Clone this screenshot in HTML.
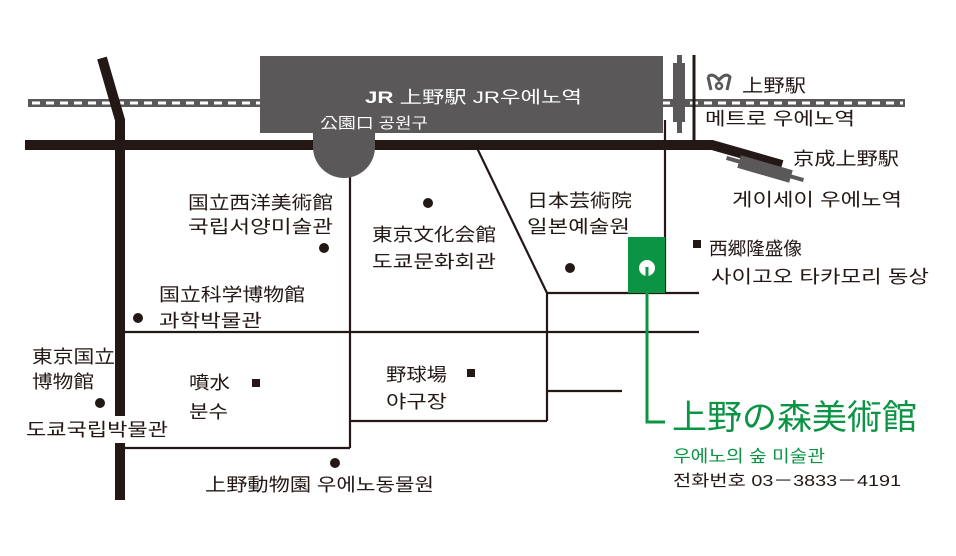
<!DOCTYPE html>
<html><head><meta charset="utf-8"><style>
html,body{margin:0;padding:0;background:#fff;}
svg{display:block;}
text{font-family:"Liberation Sans","Noto Sans CJK KR","Noto Sans CJK JP",sans-serif;}
</style></head><body>
<svg width="956" height="556" viewBox="0 0 956 556" xmlns="http://www.w3.org/2000/svg">
<rect width="956" height="556" fill="#fff"/>
<!-- rail -->
<rect x="28" y="99" width="877" height="8" fill="#5a5858"/>
<line x1="32" y1="103" x2="903" y2="103" stroke="#fff" stroke-width="3" stroke-dasharray="8,6"/>
<!-- thin roads -->
<g stroke="#231815" stroke-width="2.2" fill="none">
<line x1="350" y1="170" x2="350" y2="448"/>
<line x1="120" y1="332" x2="699" y2="332"/>
<line x1="120" y1="448" x2="350" y2="448"/>
<line x1="350" y1="421" x2="547" y2="421"/>
<line x1="547" y1="293" x2="547" y2="421"/>
<line x1="477" y1="148" x2="547" y2="293"/>
<line x1="547" y1="293" x2="699" y2="293"/>
<line x1="547" y1="391" x2="622" y2="391"/>
<line x1="665" y1="120" x2="665" y2="293"/>
</g>
<line x1="694" y1="55" x2="694" y2="146" stroke="#231815" stroke-width="3"/>
<!-- left thick road -->
<polyline points="102,58 120,120 120,500" fill="none" stroke="#231815" stroke-width="10"/>
<!-- main road -->
<polyline points="25,145 712,145 782,165" fill="none" stroke="#231815" stroke-width="10"/>
<!-- JR box -->
<rect x="260" y="56" width="403" height="77" fill="#5a5858"/>
<path d="M313,128 H375 V147 A31,31 0 0 1 313,147 Z" fill="#5a5858"/>
<text x="365" y="103" fill="#fff" font-size="17" textLength="217" lengthAdjust="spacingAndGlyphs"><tspan font-weight="bold">JR</tspan> 上野駅  JR우에노역</text>
<text x="320" y="128" fill="#fff" font-size="15" textLength="108" lengthAdjust="spacingAndGlyphs">公園口 공원구</text>
<!-- metro station -->
<rect x="677" y="55" width="5" height="78" fill="#5a5858"/>
<rect x="673" y="63" width="12" height="59" fill="#5a5858"/>
<!-- keisei -->
<g transform="translate(765,169) rotate(16)">
<rect x="-40" y="-2" width="80" height="4" fill="#5a5858"/>
<rect x="-27" y="-6.5" width="54" height="13" fill="#5a5858"/>
</g>
<!-- metro icon -->
<path d="M708,77 Q712,72 719,80 Q726,72 730,77 L727,90 M708,77 L711,90" fill="none" stroke="#5a5858" stroke-width="3"/>
<circle cx="719" cy="86" r="3" fill="none" stroke="#5a5858" stroke-width="2.5"/>
<!-- green museum -->
<rect x="628" y="237" width="37" height="56" fill="#0a9444"/>
<circle cx="647" cy="268" r="8" fill="#fff"/>
<rect x="645.5" y="267" width="3" height="10" fill="#0a9444"/>
<polyline points="647,270 647,422 665,422" fill="none" stroke="#0a9444" stroke-width="3"/>
<!-- dots -->
<g fill="#231815">
<circle cx="324" cy="248" r="5"/>
<circle cx="428" cy="203" r="5"/>
<circle cx="570" cy="268" r="5"/>
<circle cx="138" cy="318" r="5"/>
<circle cx="100" cy="403" r="5"/>
<circle cx="335" cy="463" r="5"/>
<rect x="252" y="379" width="8" height="8"/>
<rect x="467" y="369" width="8" height="8"/>
<rect x="693" y="240" width="8" height="8"/>
</g>
<!-- white masks on left road for labels -->
<rect x="114" y="416" width="14" height="27" fill="#fff"/>
<g fill="#231815" font-size="18">
<text x="742" y="92" textLength="64" lengthAdjust="spacingAndGlyphs">上野駅</text>
<text x="705" y="125" textLength="150" lengthAdjust="spacingAndGlyphs">메트로 우에노역</text>
<text x="793" y="165" textLength="106" lengthAdjust="spacingAndGlyphs">京成上野駅</text>
<text x="732" y="206" textLength="170" lengthAdjust="spacingAndGlyphs">게이세이 우에노역</text>
<text x="188" y="209" textLength="145" lengthAdjust="spacingAndGlyphs">国立西洋美術館</text>
<text x="188" y="233" textLength="145" lengthAdjust="spacingAndGlyphs">국립서양미술관</text>
<text x="372" y="241" textLength="124" lengthAdjust="spacingAndGlyphs">東京文化会館</text>
<text x="372" y="268" textLength="124" lengthAdjust="spacingAndGlyphs">도쿄문화회관</text>
<text x="527" y="207" textLength="105" lengthAdjust="spacingAndGlyphs">日本芸術院</text>
<text x="527" y="233" textLength="103" lengthAdjust="spacingAndGlyphs">일본예술원</text>
<text x="709" y="255" textLength="93" lengthAdjust="spacingAndGlyphs">西郷隆盛像</text>
<text x="711" y="283" textLength="218" lengthAdjust="spacingAndGlyphs">사이고오 타카모리 동상</text>
<text x="159" y="301" textLength="146" lengthAdjust="spacingAndGlyphs">国立科学博物館</text>
<text x="159" y="327" textLength="103" lengthAdjust="spacingAndGlyphs">과학박물관</text>
<text x="32" y="363" textLength="83" lengthAdjust="spacingAndGlyphs">東京国立</text>
<text x="32" y="388" textLength="62" lengthAdjust="spacingAndGlyphs">博物館</text>
<text x="26" y="436" textLength="142" lengthAdjust="spacingAndGlyphs">도쿄국립박물관</text>
<text x="189" y="389" textLength="41" lengthAdjust="spacingAndGlyphs">噴水</text>
<text x="189" y="418" textLength="39" lengthAdjust="spacingAndGlyphs">분수</text>
<text x="386" y="381" textLength="61" lengthAdjust="spacingAndGlyphs">野球場</text>
<text x="386" y="408" textLength="61" lengthAdjust="spacingAndGlyphs">야구장</text>
<text x="205" y="491" textLength="229" lengthAdjust="spacingAndGlyphs">上野動物園 우에노동물원</text>
</g>
<text x="672" y="429" fill="#0a9444" font-size="34" textLength="245" lengthAdjust="spacingAndGlyphs">上野の森美術館</text>
<text x="673" y="462" fill="#0a9444" font-size="17" textLength="152" lengthAdjust="spacingAndGlyphs">우에노의 숲 미술관</text>
<text x="673" y="486" fill="#231815" font-size="16" textLength="228" lengthAdjust="spacingAndGlyphs">전화번호  03－3833－4191</text>
</svg>
</body></html>
